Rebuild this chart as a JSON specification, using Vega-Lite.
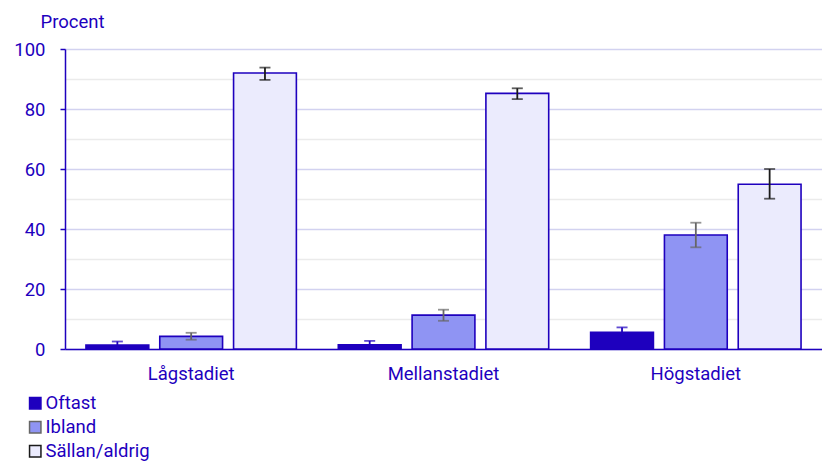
{
  "$schema": "https://vega.github.io/schema/vega-lite/v6.json",
  "width": 757,
  "height": 300,
  "autosize": {"type": "none"},
  "padding": {"left": 65, "top": 49, "right": 0, "bottom": 112},
  "background": "white",
  "config": {
    "font": "Roboto",
    "view": {"stroke": null}
  },
  "data": {
    "values": [
      {"grupp": "Lågstadiet", "svar": "Oftast", "procent": 1.3, "lo": 0.6, "hi": 2.5},
      {"grupp": "Lågstadiet", "svar": "Ibland", "procent": 4.2, "lo": 3.1, "hi": 5.4},
      {"grupp": "Lågstadiet", "svar": "Sällan/aldrig", "procent": 92, "lo": 89.7, "hi": 93.8},
      {"grupp": "Mellanstadiet", "svar": "Oftast", "procent": 1.4, "lo": 0.7, "hi": 2.7},
      {"grupp": "Mellanstadiet", "svar": "Ibland", "procent": 11.3, "lo": 9.4, "hi": 13.1},
      {"grupp": "Mellanstadiet", "svar": "Sällan/aldrig", "procent": 85.2, "lo": 83.3, "hi": 86.9},
      {"grupp": "Högstadiet", "svar": "Oftast", "procent": 5.6, "lo": 4.2, "hi": 7.2},
      {"grupp": "Högstadiet", "svar": "Ibland", "procent": 38, "lo": 33.9, "hi": 42.1},
      {"grupp": "Högstadiet", "svar": "Sällan/aldrig", "procent": 54.9, "lo": 50.1, "hi": 60}
    ]
  },
  "encoding": {
    "x": {
      "field": "grupp", "type": "nominal",
      "sort": ["Lågstadiet", "Mellanstadiet", "Högstadiet"],
      "scale": {"paddingInner": 0, "paddingOuter": 0},
      "axis": {
        "title": null, "labelAngle": 0, "labelFontSize": 18.5, "labelColor": "#1e00be",
        "ticks": false, "domainColor": "#1e00be", "domainWidth": 1.5, "labelPadding": 15, "grid": false
      }
    },
    "xOffset": {
      "field": "svar", "type": "nominal",
      "sort": ["Oftast", "Ibland", "Sällan/aldrig"],
      "scale": {"paddingInner": 0.149, "paddingOuter": 0.284}
    }
  },
  "layer": [
    {
      "mark": {"type": "bar", "stroke": "#1e00be", "strokeWidth": 1.6},
      "encoding": {
        "y": {
          "field": "procent", "type": "quantitative",
          "scale": {"domain": [0, 100], "nice": false},
          "axis": {
            "orient": "left",
            "title": "Procent", "titleAngle": 0, "titleAlign": "left", "titleBaseline": "alphabetic",
            "titleX": -25, "titleY": -22, "titleFontSize": 18.5, "titleFontWeight": "normal", "titleColor": "#1e00be",
            "values": [0, 20, 40, 60, 80, 100],
            "labelFontSize": 18.5, "labelColor": "#1e00be", "labelPadding": 15,
            "tickColor": "#1e00be", "tickSize": 5, "tickWidth": 1.5,
            "domainColor": "#1e00be", "domainWidth": 1.5,
            "grid": true, "gridColor": "#d2d2f0", "gridWidth": 1.5
          }
        },
        "fill": {
          "field": "svar", "type": "nominal",
          "sort": ["Oftast", "Ibland", "Sällan/aldrig"],
          "scale": {"domain": ["Oftast", "Ibland", "Sällan/aldrig"], "range": ["#1e00be", "#8f94f3", "#ebebfd"]},
          "legend": {
            "title": null, "orient": "none", "legendX": -39, "legendY": 345,
            "direction": "vertical", "symbolType": "square", "symbolSize": 130,
            "symbolStrokeColor": "#1e00be", "symbolStrokeWidth": 1.5,
            "labelFontSize": 18.5, "labelColor": "#1e00be", "rowPadding": 5, "labelOffset": 1
          }
        }
      }
    },
    {
      "mark": {"type": "rule", "strokeWidth": 1.8},
      "encoding": {
        "y": {
          "field": "lo", "type": "quantitative",
          "axis": {
            "orient": "left", "title": null, "values": [10, 30, 50, 70, 90],
            "labels": false, "ticks": false, "domain": false,
            "grid": true, "gridColor": "#ebebeb", "gridWidth": 1.5
          }
        },
        "y2": {"field": "hi"},
        "color": {
          "field": "svar", "type": "nominal",
          "scale": {"domain": ["Oftast", "Ibland", "Sällan/aldrig"], "range": ["#1e00be", "#666666", "#1a1a1a"]},
          "legend": null
        }
      }
    },
    {
      "mark": {"type": "tick", "orient": "horizontal", "size": 11, "thickness": 1.8},
      "encoding": {
        "y": {"field": "hi", "type": "quantitative", "axis": null},
        "color": {
          "field": "svar", "type": "nominal",
          "scale": {"domain": ["Oftast", "Ibland", "Sällan/aldrig"], "range": ["#1e00be", "#666666", "#1a1a1a"]},
          "legend": null
        }
      }
    },
    {
      "mark": {"type": "tick", "orient": "horizontal", "size": 11, "thickness": 1.8},
      "encoding": {
        "y": {"field": "lo", "type": "quantitative", "axis": null},
        "color": {
          "field": "svar", "type": "nominal",
          "scale": {"domain": ["Oftast", "Ibland", "Sällan/aldrig"], "range": ["#1e00be", "#666666", "#1a1a1a"]},
          "legend": null
        }
      }
    }
  ],
  "resolve": {"axis": {"y": "independent"}}
}
